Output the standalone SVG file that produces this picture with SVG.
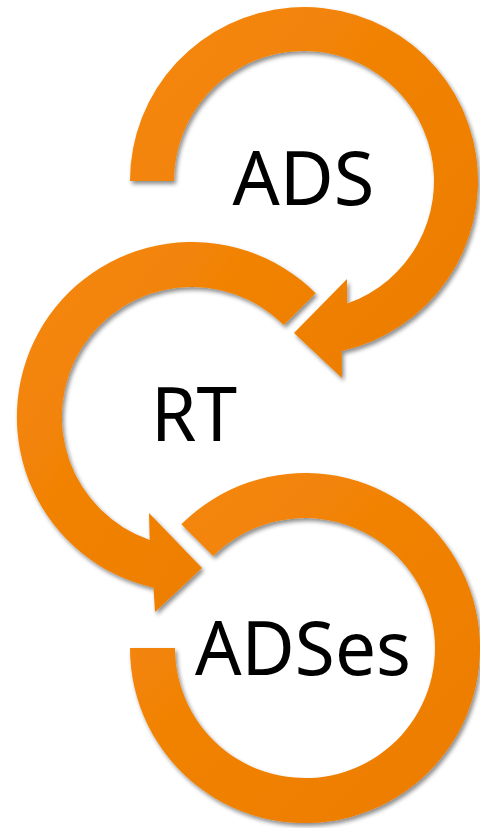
<svg xmlns="http://www.w3.org/2000/svg" width="480" height="828" viewBox="0 0 480 828">
  <defs>
    <linearGradient id="ring" x1="0" y1="0" x2="1" y2="1">
      <stop offset="0" stop-color="#F5870A"/>
      <stop offset="1" stop-color="#EC7C00"/>
    </linearGradient>
    <filter id="shadow" x="-10%" y="-10%" width="125%" height="125%">
      <feDropShadow dx="2" dy="3" stdDeviation="2" flood-color="#000" flood-opacity="0.45"/>
    </filter>
    <style>
      .ring { fill: url(#ring); filter: url(#shadow); }
      .label { font-family: "Noto Sans", "Open Sans", sans-serif; font-size: 74px; fill: #000; text-anchor: middle; }
    </style>
  </defs>
  <rect width="480" height="828" fill="#fff"/>

  <!-- cycle arcs: ADS -> RT -> ADSes -->
  <g id="connectors">
    <path id="arc-adses" class="ring" d="M130,648 A175,175 0 1 0 181.3,524.3 L213.1,556.1 A130,130 0 1 1 175,648 Z"/>
    <path id="arc-rt" class="ring" d="M315.7,293.3 A175,175 0 1 0 153.5,587.7 L155,612 L202,568 L149,513 L149.7,539.9 A130,130 0 1 1 283.9,325.1 Z"/>
    <path id="arc-ads" class="ring" d="M130,181 A174,174 0 1 1 341.7,350.9 L342,378 L294,333 L347,279 L347.2,303.6 A130,130 0 1 0 174,181 Z"/>
  </g>

  <g id="node-ads">
    <text class="label" x="303.5" y="205" textLength="142" lengthAdjust="spacingAndGlyphs">ADS</text>
  </g>
  <g id="node-rt">
    <text class="label" x="194" y="441" textLength="86" lengthAdjust="spacingAndGlyphs">RT</text>
  </g>
  <g id="node-adses">
    <text class="label" x="303" y="675" textLength="216" lengthAdjust="spacingAndGlyphs">ADSes</text>
  </g>
</svg>
